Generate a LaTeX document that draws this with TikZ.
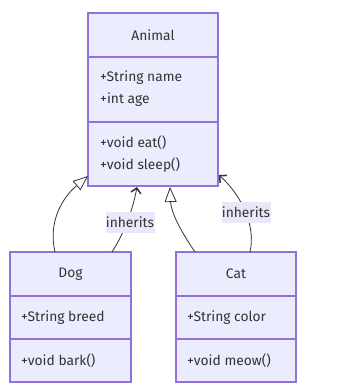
\documentclass[tikz,border=0pt]{standalone}
\usepackage{fontspec}
\setmainfont{Fira Sans}
\usetikzlibrary{arrows.meta,calc}
\definecolor{boxfill}{HTML}{ECECFF}
\definecolor{boxline}{HTML}{9370DB}
\definecolor{ink}{HTML}{333333}
\definecolor{lblfill}{HTML}{E8E8FA}
\tikzset{
  umlbox/.style={draw=boxline, fill=boxfill, line width=1.2pt, inner sep=0pt},
  divider/.style={draw=boxline, line width=1.2pt},
  txt/.style={text=ink, font=\fontsize{13.8}{16}\selectfont, inner sep=0pt},
  title/.style={txt, anchor=center},
  member/.style={txt, anchor=west},
  link/.style={draw=ink, line width=0.8pt},
  gen/.style={link, -{Triangle[length=15pt, width=12pt, fill=white, line width=0.8pt]}},
  assoc/.style={link, -{Straight Barb[length=5pt, width=10pt, line width=1.5pt]}},
  lbl/.style={fill=lblfill, text=ink, font=\fontsize{13.8}{16}\selectfont, inner sep=0pt, minimum width=49pt, minimum height=21pt}
}
\begin{document}
\begin{tikzpicture}[x=1pt, y=-1pt]
\useasboundingbox (0,0) rectangle (359,390);
% Animal
\node[umlbox, minimum width=130pt, minimum height=173pt] (animal) at (153,99.5) {};
\draw[divider] (88,57) -- (218,57);
\draw[divider] (88,122) -- (218,122);
\node[title] (animalt) at (153,35) {Animal};
\node[member] (a1) at (100,78) {+String name};
\node[member] (a2) at (100,100) {+int age};
\node[member] (a3) at (100,143) {+void eat()};
\node[member] (a4) at (100,165) {+void sleep()};
% Dog
\node[umlbox, minimum width=121pt, minimum height=130pt] (dog) at (70.5,317) {};
\draw[divider] (10,296) -- (131,296);
\draw[divider] (10,339) -- (131,339);
\node[title] (dogt) at (70.5,274) {Dog};
\node[member] (d1) at (21,318) {+String breed};
\node[member] (d2) at (21,361) {+void bark()};
% Cat
\node[umlbox, minimum width=120pt, minimum height=130pt] (cat) at (236,317) {};
\draw[divider] (176,296) -- (296,296);
\draw[divider] (176,339) -- (296,339);
\node[title] (catt) at (236,274) {Cat};
\node[member] (c1) at (187,318) {+String color};
\node[member] (c2) at (187,361) {+void meow()};
% endpoints
\coordinate (dogA) at (55,252);
\coordinate (dogB) at (112,252);
\coordinate (catA) at (195,252);
\coordinate (catB) at (250,252);
\coordinate (anA) at (88,176);
\coordinate (anB) at (137,187);
\coordinate (anC) at (170,187);
\coordinate (anD) at (219,175);
% connectors
\draw[gen] (dogA) .. controls (48,222) and (62,198) .. (anA);
\draw[assoc] (dogB) .. controls (126,230) and (133,208) .. (anB);
\draw[gen] (catA) .. controls (180,230) and (171,212) .. (anC);
\draw[assoc] (catB) .. controls (256,226) and (242,196) .. (anD);
% labels
\node[lbl] (l1) at (130,222) {inherits};
\node[lbl] (l2) at (246,212) {inherits};
\end{tikzpicture}
\end{document}
